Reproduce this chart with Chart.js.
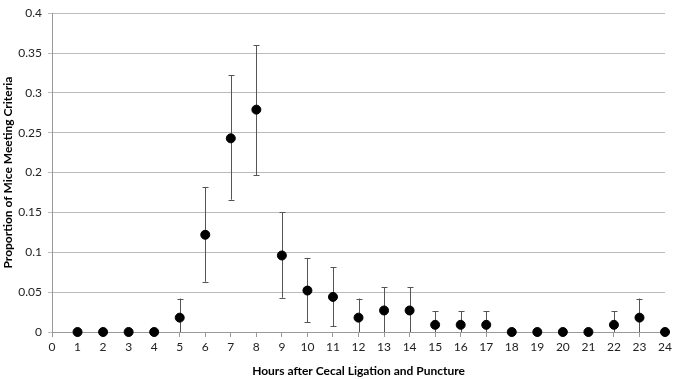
<!DOCTYPE html>
<html>
<head>
<meta charset="utf-8">
<script src="https://cdn.jsdelivr.net/npm/chart.js@4.4.0/dist/chart.umd.min.js"></script>
<style>
  html, body { margin: 0; padding: 0; background: #fff; }
  #wrap { width: 675px; height: 379px; }
</style>
</head>
<body>
<div id="wrap"><canvas id="chart"></canvas></div>
<script>
// hours after CLP
const hours = [1,2,3,4,5,6,7,8,9,10,11,12,13,14,15,16,17,18,19,20,21,22,23,24];
// proportion of mice meeting criteria
const proportion = [0,0,0,0,0.018,0.122,0.243,0.279,0.096,0.052,0.044,0.018,0.027,0.027,0.009,0.009,0.009,0,0,0,0,0.009,0.018,0];
// error bar ends
const errLow  = [0,0,0,0,0,0.063,0.166,0.197,0.043,0.012,0.007,0,0,0,0,0,0,0,0,0,0,0,0,0];
const errHigh = [0,0,0,0,0.042,0.182,0.322,0.360,0.150,0.093,0.081,0.042,0.056,0.056,0.026,0.026,0.026,0,0,0,0,0.026,0.042,0];
const yTicks = [0,0.05,0.1,0.15,0.2,0.25,0.3,0.35,0.4];
const yTickLabels = ['0','0.05','0.1','0.15','0.2','0.25','0.3','0.35','0.4'];

const points = hours.map((h, i) => ({ x: h, y: proportion[i] }));

// draws the error bars with the chart's own scales
const errorBars = {
  id: 'errorBars',
  beforeDatasetsDraw(chart) {
    const { ctx, scales: { x, y } } = chart;
    ctx.save();
    ctx.strokeStyle = '#555';
    ctx.lineWidth = 1;
    hours.forEach((h, i) => {
      if (errHigh[i] === errLow[i]) return;
      const px = Math.round(x.getPixelForValue(h)) + 0.5;
      const top = y.getPixelForValue(errHigh[i]);
      const bot = y.getPixelForValue(errLow[i]);
      ctx.beginPath();
      ctx.moveTo(px, top);
      ctx.lineTo(px, bot);
      ctx.moveTo(px - 3, Math.round(top) + 0.5);
      ctx.lineTo(px + 3, Math.round(top) + 0.5);
      if (errLow[i] > 0) {
        ctx.moveTo(px - 3, Math.round(bot) + 0.5);
        ctx.lineTo(px + 3, Math.round(bot) + 0.5);
      }
      ctx.stroke();
    });
    ctx.restore();
  }
};

Chart.defaults.font.family = 'Lato, "Open Sans", sans-serif';
Chart.defaults.color = '#222';

new Chart(document.getElementById('chart'), {
  type: 'scatter',
  data: {
    datasets: [{
      data: points,
      backgroundColor: '#000',
      borderColor: '#000',
      pointRadius: 4.5,
      pointHoverRadius: 4.5,
      clip: false
    }]
  },
  options: {
    responsive: true,
    maintainAspectRatio: false,
    animation: false,
    layout: { padding: { top: 5, right: 8, left: 0, bottom: 0 } },
    plugins: { legend: { display: false }, tooltip: { enabled: false } },
    scales: {
      x: {
        type: 'linear',
        min: 0,
        max: 24,
        afterFit: s => { s.height = 47; },
        ticks: { stepSize: 1, padding: 3, font: { size: 12 } },
        grid: { display: true, drawOnChartArea: false, drawTicks: true, tickLength: 5, color: '#999' },
        border: { color: '#999' },
        title: {
          display: true,
          text: 'Hours after Cecal Ligation and Puncture',
          font: { size: 12, weight: 'bold' },
          color: '#000',
          padding: { top: 4, bottom: 1 }
        }
      },
      y: {
        min: 0,
        max: 0.4,
        afterFit: s => { s.width = 52; },
        afterBuildTicks: s => { s.ticks = yTicks.map(v => ({ value: v })); },
        ticks: {
          padding: 6,
          font: { size: 12 },
          callback: (v, i) => yTickLabels[i]
        },
        grid: { color: '#bbb', lineWidth: 1, tickLength: 4 },
        border: { color: '#999' },
        title: {
          display: true,
          text: 'Proportion of Mice Meeting Criteria',
          font: { size: 12, weight: 'bold' },
          color: '#000',
          padding: { top: 1, bottom: 1 }
        }
      }
    }
  },
  plugins: [errorBars]
});
</script>
</body>
</html>
